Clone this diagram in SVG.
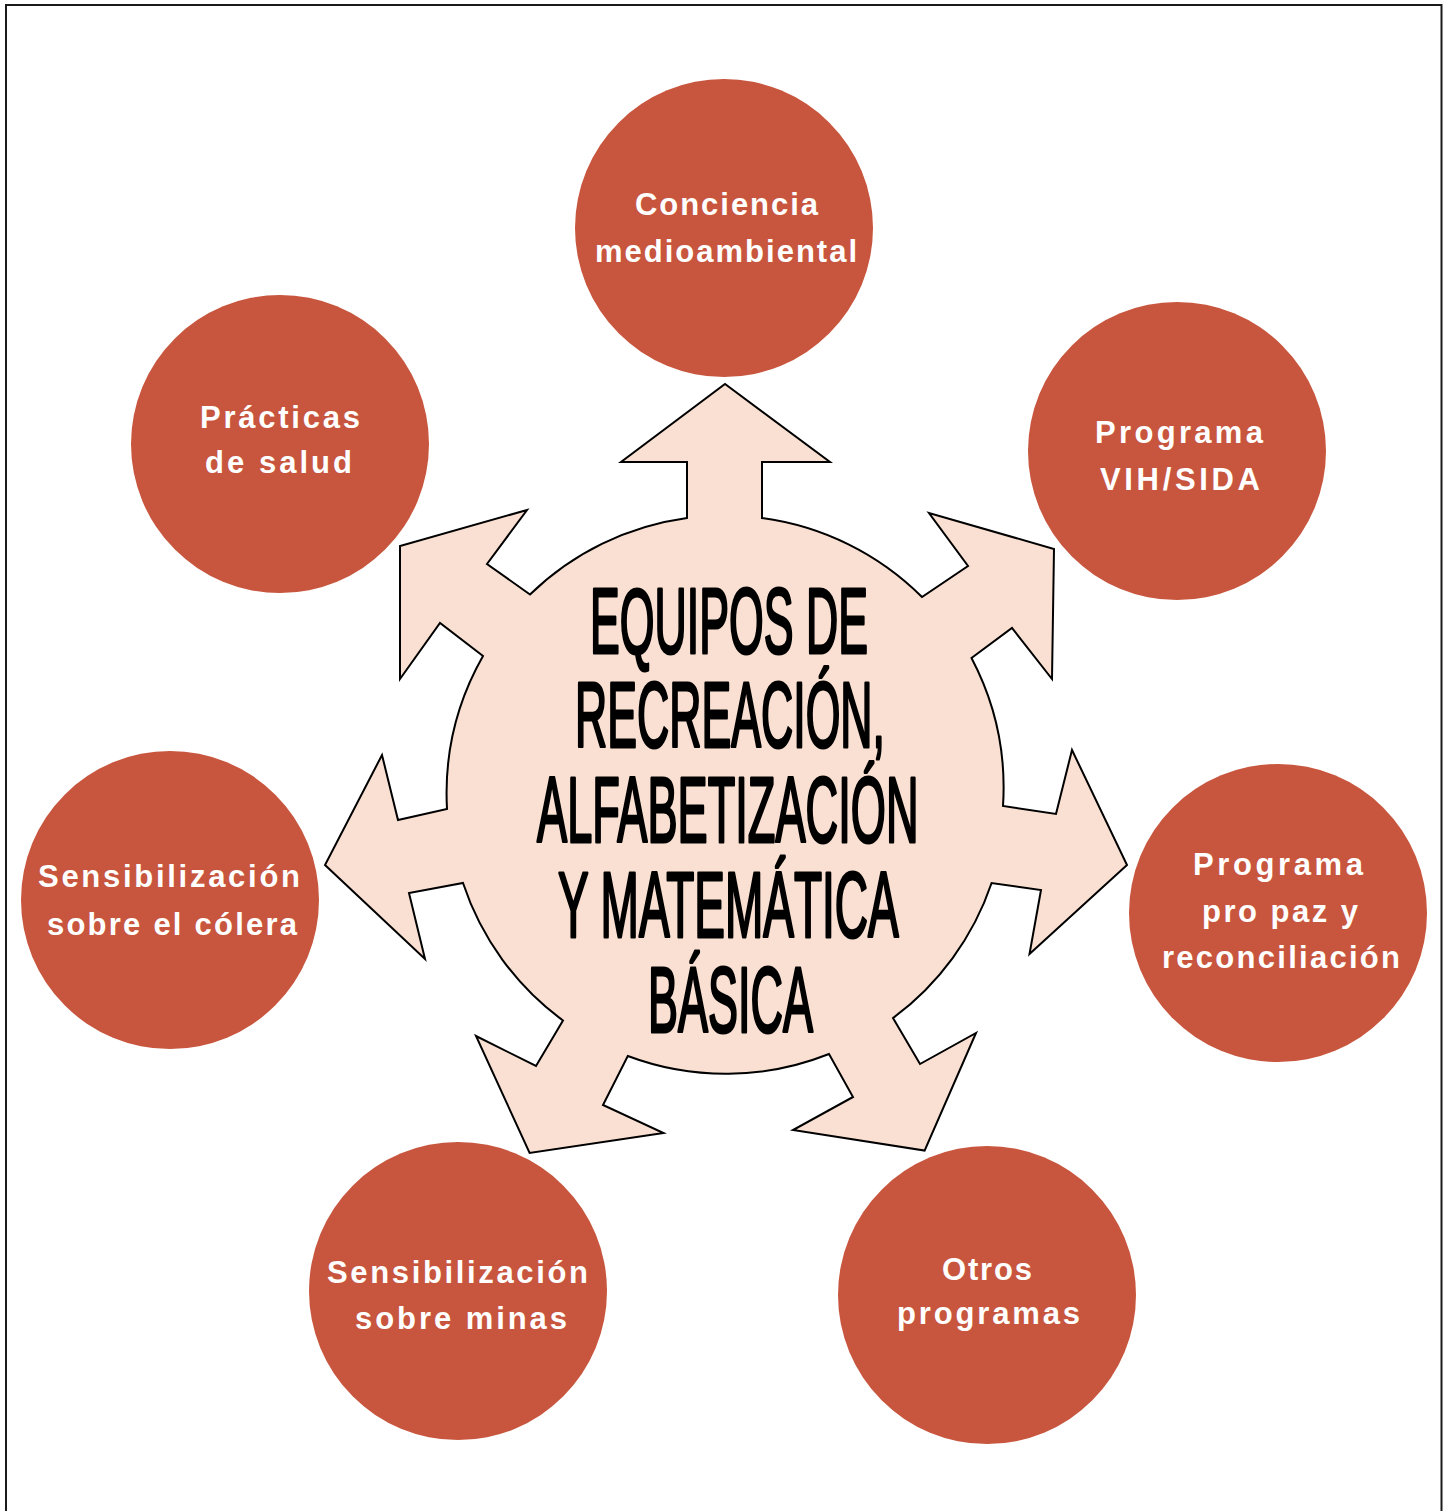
<svg xmlns="http://www.w3.org/2000/svg" width="1449" height="1511" viewBox="0 0 1449 1511">
<style>
.bubble{fill:#C8553D;}
.lbl{font-family:"Liberation Sans",Arial,sans-serif;font-weight:bold;font-size:31px;fill:#FFFFFF;}
.hubtxt{font-family:"Liberation Sans",Arial,sans-serif;font-size:92px;fill:#000000;stroke:#000000;stroke-width:2.4px;stroke-linejoin:round;vector-effect:non-scaling-stroke;}
</style>
<rect x="0" y="0" width="1449" height="1511" fill="#FFFFFF"/>
<rect x="6" y="5" width="1435.5" height="1530" fill="none" stroke="#1a1a1a" stroke-width="2"/>
<g id="connectors"></g>
<g id="hub">
<path fill="#F9E0D2" stroke="#000000" stroke-width="2" stroke-linejoin="miter" d="M687,518 L687,462 L621,462 L725,384 L830,462 L762,462 L762,518 A279,279 0 0 1 922,597 L968,566 L929,513 L1054,549 L1052,679 L1012,628 L971.5,658 A279,279 0 0 1 1003,806 L1056,814 L1072,750 L1127,865 L1029.5,954 L1041,890 L991.6,883 A279,279 0 0 1 893,1018 L920,1064 L976,1033 L924.6,1150.6 L793,1130 L853,1097 L829,1054 A279,279 0 0 1 627.8,1056 L603,1105 L663.5,1133 L529.6,1153 L476,1036 L536,1066 L563,1020.5 A279,279 0 0 1 463,883 L409,893 L425,959 L325,865 L382,755 L398,820 L447,809 A279,279 0 0 1 483,656 L440,623 L400,679 L400,546 L527,510 L487,564 L530,594.5 A279,279 0 0 1 687,518 Z"/>
<text class="hubtxt" transform="translate(590,653) scale(0.4855,1)" x="0" y="0">EQUIPOS DE</text>
<text class="hubtxt" transform="translate(575,747) scale(0.4852,1)" x="0" y="0">RECREACIÓN,</text>
<text class="hubtxt" transform="translate(537,842) scale(0.491,1)" x="0" y="0">ALFABETIZACIÓN</text>
<text class="hubtxt" transform="translate(558,937) scale(0.5,1)" x="0" y="0">Y MATEMÁTICA</text>
<text class="hubtxt" transform="translate(648,1032) scale(0.489,1)" x="0" y="0">BÁSICA</text>
</g>
<g id="n-conciencia">
<circle class="bubble" cx="724" cy="228" r="149"/>
<text class="lbl" x="635" y="215" textLength="183" lengthAdjust="spacing">Conciencia</text>
<text class="lbl" x="595" y="262" textLength="262" lengthAdjust="spacing">medioambiental</text>
</g>
<g id="n-vih">
<circle class="bubble" cx="1177" cy="451" r="149"/>
<text class="lbl" x="1095" y="443" textLength="168" lengthAdjust="spacing">Programa</text>
<text class="lbl" x="1100" y="490" textLength="160" lengthAdjust="spacing">VIH/SIDA</text>
</g>
<g id="n-paz">
<circle class="bubble" cx="1278" cy="913" r="149"/>
<text class="lbl" x="1193" y="875" textLength="170" lengthAdjust="spacing">Programa</text>
<text class="lbl" x="1202" y="922" textLength="156" lengthAdjust="spacing">pro paz y</text>
<text class="lbl" x="1162" y="968" textLength="238" lengthAdjust="spacing">reconciliación</text>
</g>
<g id="n-otros">
<circle class="bubble" cx="987" cy="1295" r="149"/>
<text class="lbl" x="942" y="1280" textLength="90" lengthAdjust="spacing">Otros</text>
<text class="lbl" x="897" y="1324" textLength="183" lengthAdjust="spacing">programas</text>
</g>
<g id="n-minas">
<circle class="bubble" cx="458" cy="1291" r="149"/>
<text class="lbl" x="327" y="1283" textLength="261" lengthAdjust="spacing">Sensibilización</text>
<text class="lbl" x="355" y="1329" textLength="212" lengthAdjust="spacing">sobre minas</text>
</g>
<g id="n-colera">
<circle class="bubble" cx="170" cy="900" r="149"/>
<text class="lbl" x="38" y="887" textLength="262" lengthAdjust="spacing">Sensibilización</text>
<text class="lbl" x="47" y="935" textLength="250" lengthAdjust="spacing">sobre el cólera</text>
</g>
<g id="n-salud">
<circle class="bubble" cx="280" cy="444" r="149"/>
<text class="lbl" x="200" y="428" textLength="160" lengthAdjust="spacing">Prácticas</text>
<text class="lbl" x="205" y="473" textLength="147" lengthAdjust="spacing">de salud</text>
</g>
</svg>
